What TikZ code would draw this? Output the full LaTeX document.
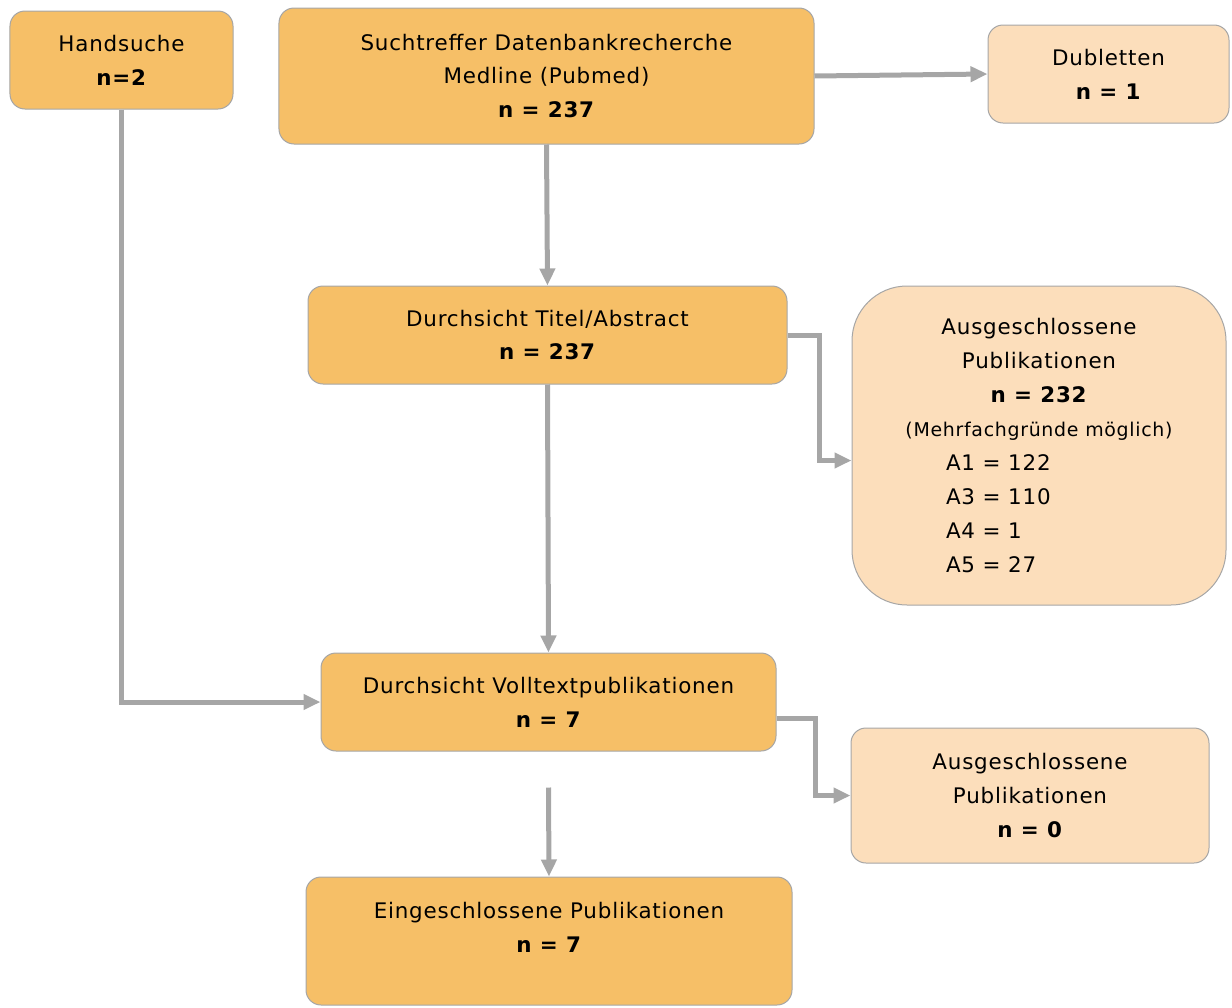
\documentclass[tikz,border=0pt]{standalone}
\usepackage{fontspec}
\setmainfont[LetterSpace=3.7]{DejaVu Sans}
\usetikzlibrary{arrows.meta}
\definecolor{boxorange}{HTML}{F6BF67}
\definecolor{boxpeach}{HTML}{FCDEBB}
\definecolor{linegray}{HTML}{A6A6A6}

\begin{document}
\begin{tikzpicture}[x=1bp,y=-1bp]
        \useasboundingbox (0,0) rectangle (1232,1008);
        \tikzstyle{every node}=[rounded corners=15bp, draw=linegray, line width=1bp, align=center, inner sep=0pt, font=\fontsize{21.5}{34}\selectfont]
        \tikzstyle{main}=[fill=boxorange]
        \tikzstyle{side}=[fill=boxpeach]
        \tikzstyle{flow}=[draw=linegray, line width=5bp, -{Triangle[length=17bp,width=15bp]}]
        \node[main, minimum width=223bp, minimum height=98bp]  (hand)   at (121.5, 60)   {Handsuche\\\textbf{n=2}};
        \node[main, minimum width=535bp, minimum height=136bp] (search) at (546.5, 76)   {Suchtreffer Datenbankrecherche\\Medline (Pubmed)\\\textbf{n = 237}};
        \node[side, minimum width=241bp, minimum height=98bp]  (dup)    at (1108.5, 74)  {Dubletten\\\textbf{n = 1}};
        \node[main, minimum width=479bp, minimum height=98bp]  (title)  at (547.5, 335)  {Durchsicht Titel/Abstract\\\textbf{n = 237}};
        \node[side, minimum width=374bp, minimum height=319bp, rounded corners=55bp] (excl1) at (1039, 445.5)
            {Ausgeschlossene\\Publikationen\\\textbf{n = 232}\\{\fontsize{19}{32}\selectfont (Mehrfachgründe möglich)}\\
             \makebox[186bp][l]{A1 = 122}\\\makebox[186bp][l]{A3 = 110}\\\makebox[186bp][l]{A4 = 1}\\\makebox[186bp][l]{A5 = 27}};
        \node[main, minimum width=455bp, minimum height=98bp]  (full)   at (548.5, 702)  {Durchsicht Volltextpublikationen\\\textbf{n = 7}};
        \node[side, minimum width=358bp, minimum height=135bp] (excl2)  at (1030, 795.5) {Ausgeschlossene\\Publikationen\\\textbf{n = 0}};
        \node[main, minimum width=486bp, minimum height=128bp] (incl)   at (549, 941)    {Eingeschlossene Publikationen\\\textbf{n = 7}\\[-16bp]\strut};
        \draw[flow] (search.east) -- (dup.west);
        \draw[flow] (search.south) -- (title.north);
        \draw[flow] (hand.south) |- (full.west);
        \draw[flow] (title.south) -- (full.north);
        \draw[flow] (title.east) -- ++(32,0) |- ([yshift=-15bp]excl1.west);
        \draw[flow] ([yshift=-16bp]full.east) -- ++(39,0) |- (excl2.west);
        \draw[flow] ([yshift=-36bp]full.south) -- (incl.north);
    \end{tikzpicture}
\end{document}
